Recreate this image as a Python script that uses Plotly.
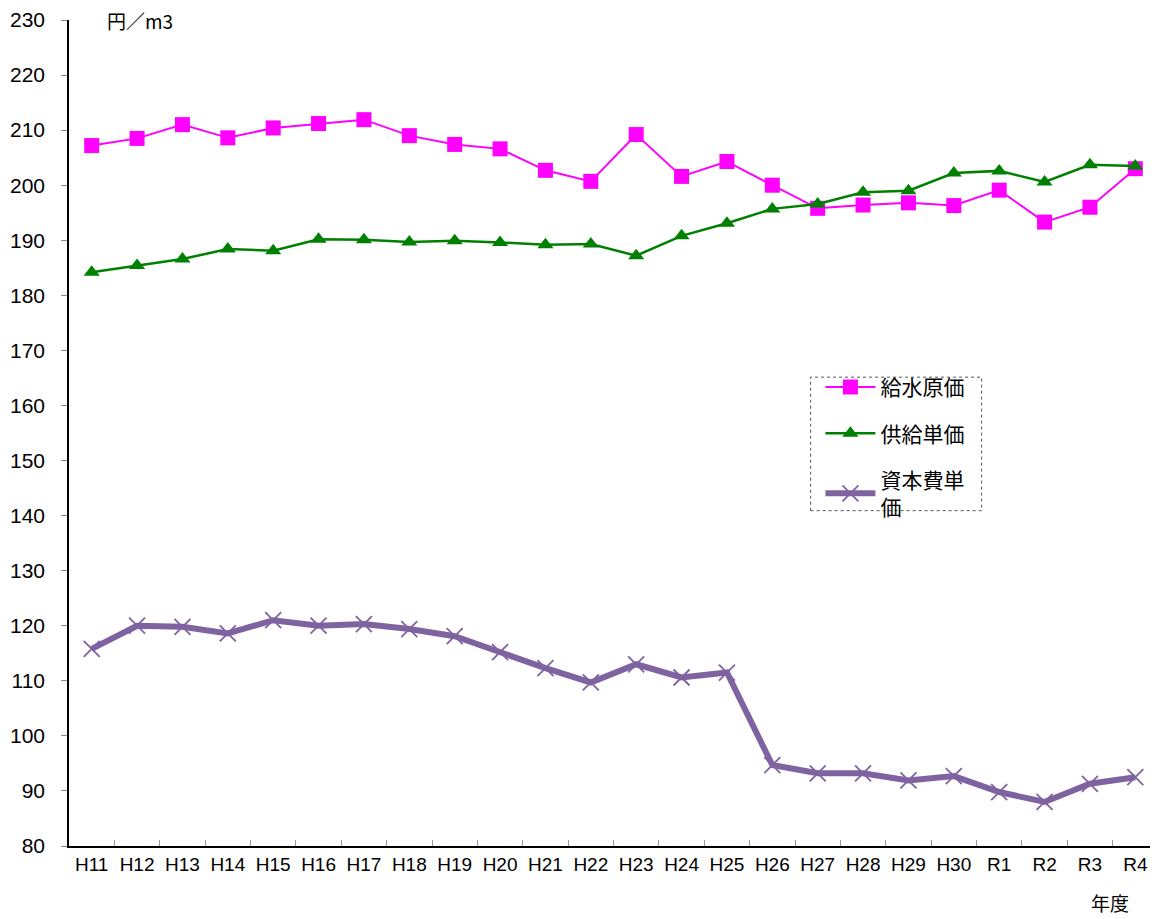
import plotly.graph_objects as go

categories = ["H11","H12","H13","H14","H15","H16","H17","H18","H19","H20","H21","H22","H23","H24","H25","H26","H27","H28","H29","H30","R1","R2","R3","R4"]
kyusui_genka = [207.2,208.5,211.0,208.6,210.4,211.2,211.9,209.0,207.4,206.6,202.7,200.7,209.2,201.6,204.3,200.0,195.8,196.4,196.8,196.3,199.1,193.3,196.0,203.0]
kyokyu_tanka = [184.2,185.4,186.6,188.4,188.1,190.2,190.1,189.7,189.9,189.6,189.2,189.3,187.2,190.8,193.1,195.7,196.6,198.7,199.0,202.2,202.6,200.6,203.7,203.5]
shihonhi_tanka = [115.8,120.0,119.8,118.6,121.0,120.0,120.3,119.4,118.1,115.2,112.3,109.7,113.0,110.6,111.5,94.7,93.2,93.2,91.9,92.7,89.8,88.0,91.3,92.5]
y_ticks = list(range(80, 231, 10))

FONT = "Liberation Sans, Noto Sans CJK JP, sans-serif"
JFONT = "Noto Sans CJK JP, sans-serif"

fig = go.Figure()
fig.add_trace(go.Scatter(
    x=categories, y=kyusui_genka, name="給水原価", mode="lines+markers",
    line=dict(color="#FF00FF", width=2),
    marker=dict(symbol="square", size=15, color="#FF00FF"),
    legendgroup="a"))
fig.add_trace(go.Scatter(
    x=categories, y=kyokyu_tanka, name="供給単価", mode="lines+markers",
    line=dict(color="#008000", width=2.5),
    marker=dict(symbol="triangle-up", size=14, color="#008000"),
    legendgroup="b"))
fig.add_trace(go.Scatter(
    x=categories, y=shihonhi_tanka, name="資本費単<br>価", mode="lines+markers",
    line=dict(color="#7F63A1", width=6),
    marker=dict(symbol="x-thin", size=16, color="#7F63A1",
                line=dict(color="#7F63A1", width=1.8)),
    legendgroup="c"))

fig.update_layout(
    width=1150, height=911,
    margin=dict(l=61, r=0, t=9, b=73),
    paper_bgcolor="white", plot_bgcolor="white",
    font=dict(family=FONT, size=18, color="black"),
    showlegend=True,
    legend=dict(
        x=0.690, y=0.58, xanchor="left", yanchor="top",
        bgcolor="rgba(0,0,0,0)",
        font=dict(size=21, family=JFONT),
        traceorder="grouped", tracegroupgap=16,
        itemwidth=50,
    ),
    xaxis=dict(
        type="category", categoryorder="array", categoryarray=categories,
        range=[-0.5, len(categories) - 0.5],
        showline=True, linecolor="black", linewidth=1.5,
        ticks="inside", ticklen=6, tickcolor="#999999", tickson="boundaries",
        showgrid=False, zeroline=False, tickangle=0,
        ticklabeloverflow="allow",
        tickfont=dict(size=19, family=FONT),
    ),
    yaxis=dict(
        range=[80, 230], tickvals=y_ticks,
        showline=True, linecolor="black", linewidth=1.5,
        ticks="outside", ticklen=6, tickcolor="#888888",
        ticklabelstandoff=12, ticklabeloverflow="allow",
        showgrid=False, zeroline=False,
        tickfont=dict(size=21, family=FONT),
    ),
    shapes=[dict(
        type="rect", xref="paper", yref="paper",
        x0=0.681, x1=0.838, y0=0.406, y1=0.5676,
        line=dict(color="#555555", width=1, dash="dot"))],
    annotations=[
        dict(text="円／m3", xref="paper", yref="paper", x=0.033, y=1.0,
             xanchor="left", yanchor="middle", showarrow=False,
             font=dict(size=19, family=JFONT)),
        dict(text="年度", xref="paper", yref="paper", x=0.956, y=-0.069,
             xanchor="center", yanchor="middle", showarrow=False,
             font=dict(size=19, family=JFONT)),
    ],
)

fig.write_html("out.html")
